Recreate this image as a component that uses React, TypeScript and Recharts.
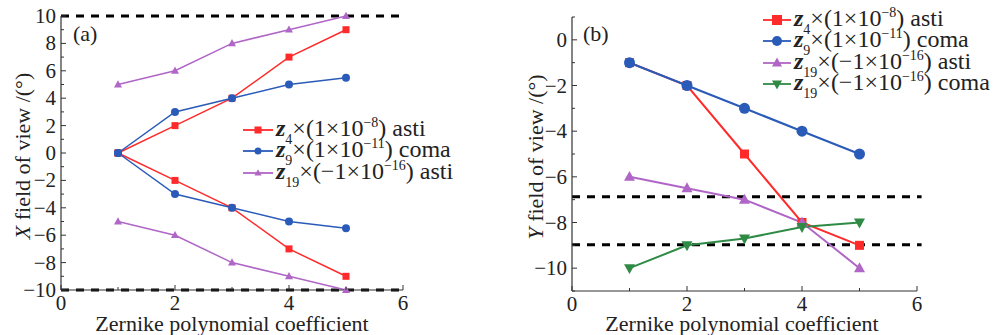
import React from 'react';
import { LineChart, Line, XAxis, YAxis, ReferenceLine } from 'recharts';

const xs = [1, 2, 3, 4, 5];
// panel (a)
const aZ4Pos = [0, 2, 4, 7, 9];
const aZ4Neg = [0, -2, -4, -7, -9];
const aZ9Pos = [0, 3, 4, 5, 5.5];
const aZ9Neg = [0, -3, -4, -5, -5.5];
const aZ19Pos = [5, 6, 8, 9, 10];
const aZ19Neg = [-5, -6, -8, -9, -10];
const aLimits = [10, -10];
// panel (b)
const bZ4 = [-1, -2, -5, -8, -9];
const bZ9 = [-1, -2, -3, -4, -5];
const bZ19Asti = [-6, -6.5, -7, -8, -10];
const bZ19Coma = [-10, -9, -8.7, -8.2, -8];
const bLimits = [-6.87, -8.97];

const xTicks = [0, 1, 2, 3, 4, 5, 6];
const aYTicks = [-10, -9, -8, -7, -6, -5, -4, -3, -2, -1, 0, 1, 2, 3, 4, 5, 6, 7, 8, 9, 10];
const bYTicks = [-11, -10, -9, -8, -7, -6, -5, -4, -3, -2, -1, 0, 1];

const aData = xs.map((x, i) => ({
  x, z4p: aZ4Pos[i], z4n: aZ4Neg[i], z9p: aZ9Pos[i], z9n: aZ9Neg[i], z19p: aZ19Pos[i], z19n: aZ19Neg[i],
}));
const bData = xs.map((x, i) => ({ x, z4: bZ4[i], z9: bZ9[i], z19a: bZ19Asti[i], z19c: bZ19Coma[i] }));

const RED = '#ff2a2a';
const BLUE = '#2b5bb8';
const PURPLE = '#b066c6';
const GREEN = '#2f8a45';
const FONT = '"Liberation Serif", serif';

const fmt = (v: number) => (v < 0 ? '\u2212' + Math.abs(v) : String(v));

function Marker({ shape, cx, cy, s, color }: any) {
  if (cx == null || cy == null) return null;
  if (shape === 'square') return <rect x={cx - s / 2} y={cy - s / 2} width={s} height={s} fill={color} />;
  if (shape === 'circle') return <circle cx={cx} cy={cy} r={s / 2} fill={color} />;
  if (shape === 'up') {
    const h = s * 0.9;
    return <polygon points={`${cx},${cy - h * 0.6} ${cx - s / 2},${cy + h * 0.4} ${cx + s / 2},${cy + h * 0.4}`} fill={color} />;
  }
  const h = s * 0.9;
  return <polygon points={`${cx},${cy + h * 0.6} ${cx - s / 2},${cy - h * 0.4} ${cx + s / 2},${cy - h * 0.4}`} fill={color} />;
}

const dot = (shape: string, s: number, color: string) => (p: any) => (
  <Marker key={`${shape}-${p.index}-${p.cx}-${p.cy}`} shape={shape} cx={p.cx} cy={p.cy} s={s} color={color} />
);

const XTick = (p: any) => {
  const v = p.payload.value;
  const major = v % 2 === 0;
  return (
    <g>
      <line x1={p.x} y1={p.y} x2={p.x} y2={p.y - (major ? 5 : 3)} stroke="#333" strokeWidth={1} />
      {major && (
        <text x={p.x} y={p.y + 20} textAnchor="middle" fontFamily={FONT} fontSize={21} fill="#222">
          {fmt(v)}
        </text>
      )}
    </g>
  );
};

const YTick = (p: any) => {
  const v = p.payload.value;
  const major = v % 2 === 0;
  return (
    <g>
      <line x1={p.x} y1={p.y} x2={p.x + (major ? 5 : 3)} y2={p.y} stroke="#333" strokeWidth={1} />
      {major && (
        <text x={p.x - 5} y={p.y + 7} textAnchor="end" fontFamily={FONT} fontSize={21} fill="#222">
          {fmt(v)}
        </text>
      )}
    </g>
  );
};

const LegendIcon = ({ shape, color, s, w }: any) => (
  <svg width={w} height={14} style={{ verticalAlign: 'middle', overflow: 'visible' }}>
    <line x1={0} y1={7} x2={w} y2={7} stroke={color} strokeWidth={1.8} />
    <Marker shape={shape} cx={w / 2} cy={7} s={s} color={color} />
  </svg>
);

const Zlabel = ({ sub, mult, exp, name }: any) => (
  <span style={{ fontFamily: FONT, fontSize: 24, color: '#222', whiteSpace: 'nowrap' }}>
    <span style={{ fontStyle: 'italic', fontWeight: 'bold' }}>z</span>
    <span style={{ fontSize: 14, position: 'relative', top: 8 }}>{sub}</span>
    {'\u00d7(' + mult + '\u00d710'}
    <span style={{ fontSize: 14, position: 'relative', top: -9 }}>{exp}</span>
    {') ' + name}
  </span>
);

const aLegend = [
  { shape: 'square', color: RED, sub: '4', mult: '1', exp: '\u22128', name: 'asti' },
  { shape: 'circle', color: BLUE, sub: '9', mult: '1', exp: '\u221211', name: 'coma' },
  { shape: 'up', color: PURPLE, sub: '19', mult: '\u22121', exp: '\u221216', name: 'asti' },
];
const bLegend = [
  ...aLegend,
  { shape: 'down', color: GREEN, sub: '19', mult: '\u22121', exp: '\u221216', name: 'coma' },
];

const LegendBox = ({ items, s, w, left, top }: any) => (
  <div style={{ position: 'absolute', left, top, lineHeight: '21.5px' }}>
    {items.map((it: any, i: number) => (
      <div key={i} style={{ height: 21.5, display: 'flex', alignItems: 'center' }}>
        <LegendIcon shape={it.shape} color={it.color} s={s} w={w} />
        <span style={{ marginLeft: 3 }}>
          <Zlabel sub={it.sub} mult={it.mult} exp={it.exp} name={it.name} />
        </span>
      </div>
    ))}
  </div>
);

const yLabel = (letter: string, cx: number, cy: number) => () => (
  <text x={cx} y={cy} transform={`rotate(-90 ${cx} ${cy})`} textAnchor="middle" dominantBaseline="central" fontFamily={FONT} fontSize={22} fill="#222">
    <tspan fontStyle="italic">{letter}</tspan>
    <tspan>{' field of view /(\u00b0)'}</tspan>
  </text>
);

const xLabel = (cx: number) => () => (
  <text x={cx} y={331} textAnchor="middle" fontFamily={FONT} fontSize={22} fill="#222">
    Zernike polynomial coefficient
  </text>
);

export default function App() {
  return (
    <div style={{ position: 'absolute', left: 0, top: 0, width: 996, height: 335, background: '#fff', overflow: 'hidden' }}>
      <div style={{ position: 'absolute', left: 0, top: 0 }}>
        <LineChart width={498} height={335} data={aData} margin={{ top: 16, right: 95, bottom: 0, left: 0 }}>
          <XAxis dataKey="x" type="number" domain={[0, 6]} ticks={xTicks} interval={0} tickSize={0} tickMargin={0} tick={XTick} height={45} axisLine={{ stroke: '#333', strokeWidth: 1.2 }} label={{ content: xLabel(232) }} />
          <YAxis type="number" domain={[-10, 10]} ticks={aYTicks} interval={0} tickSize={0} tickMargin={0} tick={YTick} width={61} axisLine={{ stroke: '#333', strokeWidth: 1.2 }} label={{ content: yLabel('X', 22, 156) }} />
          {aLimits.map((v) => (
            <ReferenceLine key={v} y={v} stroke="#000" strokeWidth={3} strokeDasharray="8 7" ifOverflow="visible" />
          ))}
          <Line dataKey="z4p" stroke={RED} strokeWidth={1.5} dot={dot('square', 7, RED)} isAnimationActive={false} legendType="none" />
          <Line dataKey="z4n" stroke={RED} strokeWidth={1.5} dot={dot('square', 7, RED)} isAnimationActive={false} legendType="none" />
          <Line dataKey="z9p" stroke={BLUE} strokeWidth={1.5} dot={dot('circle', 8, BLUE)} isAnimationActive={false} legendType="none" />
          <Line dataKey="z9n" stroke={BLUE} strokeWidth={1.5} dot={dot('circle', 8, BLUE)} isAnimationActive={false} legendType="none" />
          <Line dataKey="z19p" stroke={PURPLE} strokeWidth={1.5} dot={dot('up', 8, PURPLE)} isAnimationActive={false} legendType="none" />
          <Line dataKey="z19n" stroke={PURPLE} strokeWidth={1.5} dot={dot('up', 8, PURPLE)} isAnimationActive={false} legendType="none" />
        </LineChart>
        <LegendBox items={aLegend} s={7} w={30} left={243} top={119} />
        <div style={{ position: 'absolute', left: 73, top: 21, fontFamily: FONT, fontSize: 22, color: '#222' }}>(a)</div>
      </div>
      <div style={{ position: 'absolute', left: 498, top: 0 }}>
        <LineChart width={498} height={335} data={bData} margin={{ top: 17, right: 79, bottom: 0, left: 0 }}>
          <XAxis dataKey="x" type="number" domain={[0, 6]} ticks={xTicks} interval={0} tickSize={0} tickMargin={0} tick={XTick} height={44} axisLine={{ stroke: '#333', strokeWidth: 1.2 }} label={{ content: xLabel(244) }} />
          <YAxis type="number" domain={[-11, 1]} ticks={bYTicks} interval={0} tickSize={0} tickMargin={0} tick={YTick} width={74} axisLine={{ stroke: '#333', strokeWidth: 1.2 }} label={{ content: yLabel('Y', 37, 157) }} />
          {bLimits.map((v) => (
            <ReferenceLine key={v} segment={[{ x: 0, y: v }, { x: 6.08, y: v }]} stroke="#000" strokeWidth={3} strokeDasharray="8 7" ifOverflow="visible" />
          ))}
          <Line dataKey="z4" stroke={RED} strokeWidth={2} dot={dot('square', 9, RED)} isAnimationActive={false} legendType="none" />
          <Line dataKey="z9" stroke={BLUE} strokeWidth={2.2} dot={dot('circle', 11, BLUE)} isAnimationActive={false} legendType="none" />
          <Line dataKey="z19a" stroke={PURPLE} strokeWidth={2} dot={dot('up', 11, PURPLE)} isAnimationActive={false} legendType="none" />
          <Line dataKey="z19c" stroke={GREEN} strokeWidth={2} dot={dot('down', 11, GREEN)} isAnimationActive={false} legendType="none" />
        </LineChart>
        <LegendBox items={bLegend} s={10} w={28} left={265} top={9} />
        <div style={{ position: 'absolute', left: 85, top: 21, fontFamily: FONT, fontSize: 22, color: '#222' }}>(b)</div>
      </div>
    </div>
  );
}
